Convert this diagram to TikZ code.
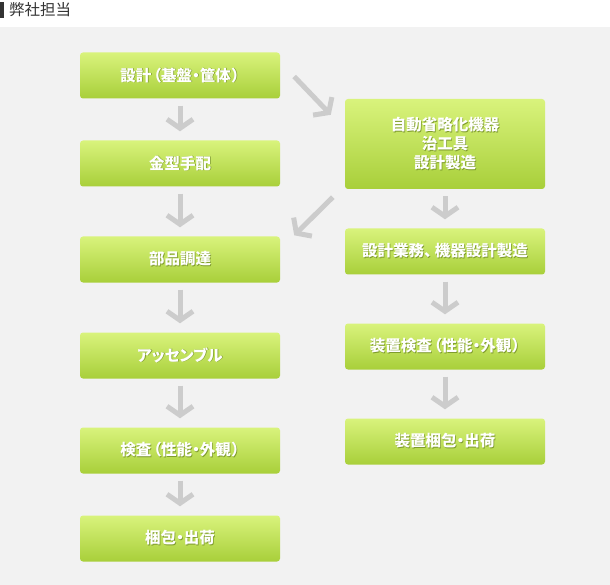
\documentclass[tikz,border=0pt]{standalone}
\usepackage{fontspec}
\usetikzlibrary{arrows.meta,calc}
\newfontfamily\cjk{Noto Sans CJK JP}[RawFeature={+palt}]
\definecolor{bgc}{HTML}{F2F2F2}
\definecolor{gtop}{HTML}{D9F37C}
\definecolor{gbot}{HTML}{A8CF3A}
\definecolor{arrc}{HTML}{CCCCCC}
\definecolor{hdr}{HTML}{333333}
\newcommand\sht[1]{\leavevmode\rlap{\raisebox{-0.8pt}{\kern0.8pt\textcolor{black!25!gbot}{#1}}}#1}
\begin{document}
\begin{tikzpicture}[x=1pt,y=-1pt,
  flowbox/.style={rectangle, rounded corners=3pt, minimum width=200pt, minimum height=46pt,
    top color=gtop, bottom color=gbot, draw=none, text=white, align=center,
    font=\cjk\bfseries\fontsize{15.5}{19}\selectfont, inner sep=0pt},
  flowarrow/.style={draw=arrc, line width=5pt, -{Straight Barb[length=9pt,width=26pt,line width=5pt]}}]
\useasboundingbox (0,0) rectangle (610,585);
\fill[white] (0,0) rectangle (610,27);
\fill[bgc] (0,27) rectangle (610,585);
\fill[hdr] (0,2) rectangle (4,18);
\node[anchor=west, inner sep=0pt, text=hdr, font=\cjk\fontsize{15.5}{15.5}\selectfont] (hd) at (9,10) {弊社担当};
% left column
\node[flowbox] (b1) at (180,75.5) {\sht{設計\kern2pt（基盤・筐体\kern1pt）}};
\node[flowbox] (b2) at (180,163.5) {\sht{金型手配}};
\node[flowbox] (b3) at (180,259.5) {\sht{部品調達}};
\node[flowbox] (b4) at (180,355.5) {\sht{アッセンブル}};
\node[flowbox] (b5) at (180,450.5) {\sht{検査\kern2pt（性能・外観\kern1pt）}};
\node[flowbox] (b6) at (180,538.5) {\sht{梱包・出荷}};
% right column
\node[flowbox, minimum height=90pt] (r1) at (445,144) {\sht{自動省略化機器}\\\sht{治工具}\\\sht{設計製造}};
\node[flowbox] (r2) at (445,251.5) {\sht{設計業務、\kern3pt機器設計製造}};
\node[flowbox] (r3) at (445,346.5) {\sht{装置検査\kern2pt（性能・外観\kern1pt）}};
\node[flowbox] (r4) at (445,441.5) {\sht{装置梱包・出荷}};
% arrows
\foreach \a/\b in {b1/b2,b2/b3,b3/b4,b4/b5,b5/b6,r1/r2,r2/r3,r3/r4}
  \draw[flowarrow] ($(\a.south)+(0,7)$) -- ($(\b.north)+(0,-9)$);
\draw[flowarrow] ($(b1.east)+(14,1)$) -- ($(r1.north west)+(-14,16)$);
\draw[flowarrow] ($(r1.south west)+(-12,8)$) -- ($(b3.north east)+(14,-1)$);
\end{tikzpicture}
\end{document}
